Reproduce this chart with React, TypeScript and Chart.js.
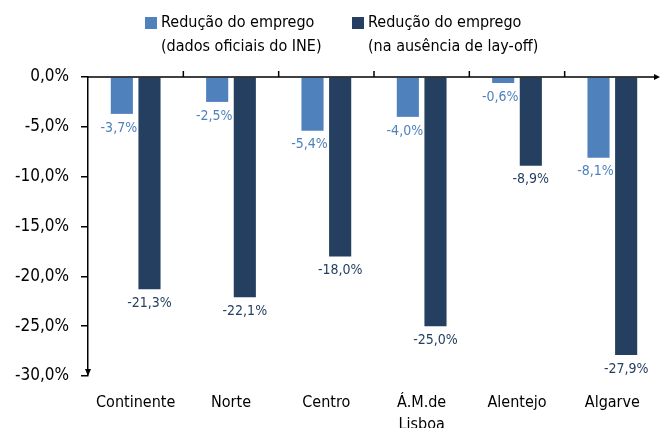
import React, { useEffect, useRef } from "react";
import { Chart, registerables } from "chart.js";

Chart.register(...registerables);

const categories: (string | string[])[] = ["Continente", "Norte", "Centro", ["Á.M.de", "Lisboa"], "Alentejo", "Algarve"];
const officialValues = [-3.7, -2.5, -5.4, -4.0, -0.6, -8.1];
const noLayoffValues = [-21.3, -22.1, -18.0, -25.0, -8.9, -27.9];
const seriesLabels = [
  ["Redução do emprego", "(dados oficiais do INE)"],
  ["Redução do emprego", "(na ausência de lay-off)"],
];
const yMin = -30;
const yMax = 0;
const yStep = 5;

const LIGHT = "#4f81bd";
const DARK = "#243f60";
const FONT = "'DejaVu Sans Condensed', 'DejaVu Sans', sans-serif";

const fmt = (v: number) => v.toFixed(1).replace(".", ",") + "%";

const decorPlugin = {
  id: "decor",
  afterDraw(chart: any) {
    const { ctx, chartArea } = chart;
    const x = chart.scales.x;
    const y = chart.scales.y;
    ctx.save();
    const y0 = y.getPixelForValue(0);
    ctx.strokeStyle = "#000";
    ctx.lineWidth = 1.5;
    ctx.beginPath();
    ctx.moveTo(chartArea.left, y0);
    ctx.lineTo(chartArea.right - 2, y0);
    ctx.stroke();
    const n = categories.length;
    for (let i = 1; i < n; i++) {
      const bx = (x.getPixelForValue(i - 1) + x.getPixelForValue(i)) / 2;
      ctx.beginPath();
      ctx.moveTo(bx, y0);
      ctx.lineTo(bx, y0 - 6);
      ctx.stroke();
    }
    ctx.fillStyle = "#000";
    ctx.beginPath();
    ctx.moveTo(chartArea.right, y0);
    ctx.lineTo(chartArea.right - 6, y0 - 3);
    ctx.lineTo(chartArea.right - 6, y0 + 3);
    ctx.closePath();
    ctx.fill();
    const yb = y.getPixelForValue(yMin) - 2;
    ctx.beginPath();
    ctx.moveTo(chartArea.left, yb + 2);
    ctx.lineTo(chartArea.left - 3, yb - 5);
    ctx.lineTo(chartArea.left + 3, yb - 5);
    ctx.closePath();
    ctx.fill();

    ctx.font = "16px " + FONT;
    ctx.textBaseline = "middle";
    ctx.textAlign = "left";
    const legendX = [145, 352];
    const colors = [LIGHT, DARK];
    for (let i = 0; i < 2; i++) {
      ctx.fillStyle = colors[i];
      ctx.fillRect(legendX[i], 17, 12, 12);
      ctx.fillStyle = "#000";
      ctx.fillText(seriesLabels[i][0], legendX[i] + 16, 23);
      ctx.fillText(seriesLabels[i][1], legendX[i] + 16, 47);
    }
    ctx.restore();
  },
  afterDatasetsDraw(chart: any) {
    const { ctx } = chart;
    ctx.save();
    ctx.font = "14px " + FONT;
    ctx.textAlign = "center";
    ctx.textBaseline = "middle";
    chart.data.datasets.forEach((ds: any, di: number) => {
      const meta = chart.getDatasetMeta(di);
      meta.data.forEach((bar: any, i: number) => {
        ctx.fillStyle = di === 0 ? LIGHT : DARK;
        ctx.fillText(fmt(ds.data[i]), bar.x - (di === 0 ? 3 : 0), bar.y + 14);
      });
    });
    ctx.restore();
  },
};

export default function App() {
  const ref = useRef<HTMLCanvasElement>(null);
  useEffect(() => {
    if (!ref.current) return;
    const chart = new Chart(ref.current, {
      type: "bar",
      data: {
        labels: categories as any,
        datasets: [
          { label: seriesLabels[0].join(" "), data: officialValues, backgroundColor: LIGHT },
          { label: seriesLabels[1].join(" "), data: noLayoffValues, backgroundColor: DARK },
        ],
      },
      options: {
        responsive: false,
        animation: false,
        maintainAspectRatio: false,
        layout: { padding: { top: 77, left: 8, right: 0, bottom: 0 } },
        datasets: { bar: { categoryPercentage: 0.58, barPercentage: 0.8 } } as any,
        plugins: { legend: { display: false }, tooltip: { enabled: false } },
        scales: {
          x: {
            grid: { display: false },
            border: { display: false },
            ticks: { color: "#000", font: { family: FONT, size: 16, lineHeight: 1.35 }, padding: 8, maxRotation: 0, autoSkip: false },
            afterFit: (s: any) => { s.height = 52; },
          },
          y: {
            min: yMin,
            max: yMax,
            ticks: { stepSize: yStep, color: "#000", font: { family: FONT, size: 17 }, padding: 12, callback: (v: any) => fmt(Number(v)) },
            grid: { drawOnChartArea: false, tickLength: 7, color: "#000", lineWidth: 1.5 },
            border: { display: true, color: "#000", width: 1.5 },
            afterFit: (s: any) => { s.width = 80; },
          },
        },
      },
      plugins: [decorPlugin],
    });
    return () => chart.destroy();
  }, []);
  return (
    <div style={{ position: "fixed", left: 0, top: 0, width: 660, height: 428, background: "#fff" }}>
      <canvas ref={ref} width={660} height={428} style={{ width: 660, height: 428 }} />
    </div>
  );
}
